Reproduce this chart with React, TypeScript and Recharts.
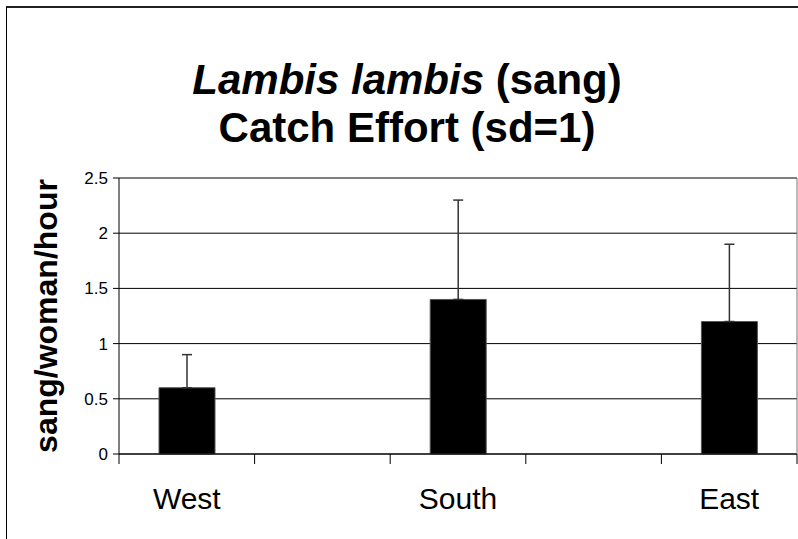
import { BarChart, Bar, XAxis, YAxis, CartesianGrid, ErrorBar } from 'recharts'

// Excel-style layout: empty categories sit between the three regions
const categories = ['West', '', 'South', '', 'East']
const catchPerHour = [0.6, null, 1.4, null, 1.2]
const sdPlus = [0.3, null, 0.9, null, 0.7]
const yTicks = [0, 0.5, 1, 1.5, 2, 2.5]

const FONT = '"Liberation Sans", Arial, Helvetica, sans-serif'

const data = categories.map((region, i) => ({
  region,
  value: catchPerHour[i],
  err: sdPlus[i] == null ? null : [0, sdPlus[i]],
}))

// category ticks sit on the band edges, labels in the band centre
function RegionTick(props: any) {
  const { x, y, payload, index, visibleTicksCount } = props
  const half = payload?.offset ?? 0
  return (
    <g>
      <line x1={x - half} x2={x - half} y1={y} y2={y + 10} stroke="#000" />
      {index === visibleTicksCount - 1 && (
        <line x1={x + half} x2={x + half} y1={y} y2={y + 10} stroke="#000" />
      )}
      <text x={x} y={y + 55} textAnchor="middle" fontSize={30} fontFamily={FONT} fill="#000">
        {payload.value}
      </text>
    </g>
  )
}

export default function App() {
  return (
    <div style={{ position: 'absolute', left: 0, top: 0, width: 798, height: 539, overflow: 'hidden', background: '#fff' }}>
      <div
        style={{
          position: 'absolute',
          left: 6,
          top: 6,
          width: 900,
          height: 700,
          borderTop: '2px solid #222',
          borderLeft: '1px solid #000',
        }}
      />
      <div
        style={{
          position: 'absolute',
          left: 0,
          top: 56,
          width: 814,
          textAlign: 'center',
          fontFamily: FONT,
          fontWeight: 'bold',
          fontSize: 42,
          lineHeight: '48px',
          color: '#000',
        }}
      >
        <div>
          <i>Lambis lambis</i> (sang)
        </div>
        <div>Catch Effort (sd=1)</div>
      </div>
      <div style={{ position: 'absolute', left: 0, top: 0 }}>
        <BarChart
          width={798}
          height={539}
          data={data}
          margin={{ top: 178, right: 0, bottom: 0, left: 0 }}
          barSize={56}
        >
          <CartesianGrid horizontal vertical={false} stroke="#000" strokeWidth={1} />
          <XAxis
            dataKey="region"
            interval={0}
            height={85}
            tickSize={0}
            tickMargin={0}
            tickLine={false}
            axisLine={{ stroke: '#000' }}
            tick={<RegionTick />}
          />
          <YAxis
            width={119}
            domain={[0, 2.5]}
            ticks={yTicks}
            interval={0}
            tickSize={6}
            tickMargin={5}
            axisLine={{ stroke: '#000' }}
            tickLine={{ stroke: '#000' }}
            tick={{ fontSize: 17, fill: '#000', fontFamily: FONT }}
            label={{
              value: 'sang/woman/hour',
              angle: -90,
              position: 'insideLeft',
              offset: 46,
              style: { textAnchor: 'middle', fontSize: 32, fontWeight: 'bold', fill: '#000', fontFamily: FONT },
            }}
          />
          <YAxis
            yAxisId="frame"
            orientation="right"
            width={1}
            domain={[0, 2.5]}
            tick={false}
            tickLine={false}
            axisLine={{ stroke: '#777' }}
          />
          <Bar dataKey="value" fill="#000" stroke="#555" strokeWidth={1} isAnimationActive={false}>
            <ErrorBar dataKey="err" width={5} stroke="#333" strokeWidth={1.5} direction="y" />
          </Bar>
        </BarChart>
      </div>
    </div>
  )
}
